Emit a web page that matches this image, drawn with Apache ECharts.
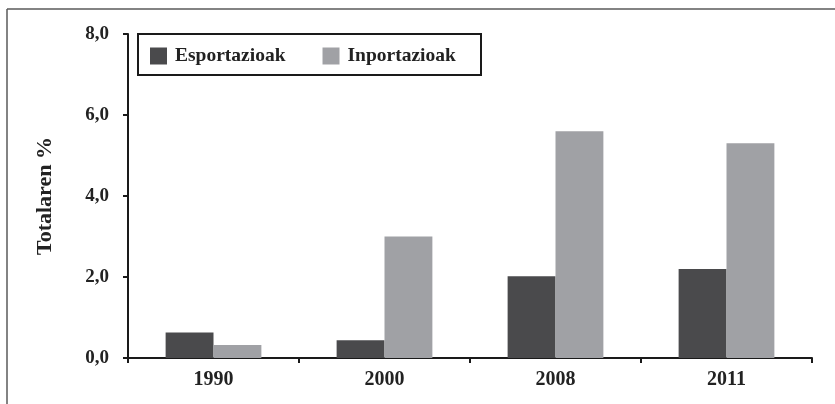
<!DOCTYPE html>
<html>
<head>
<meta charset="utf-8">
<script src="https://cdn.jsdelivr.net/npm/echarts@6/dist/echarts.min.js"></script>
<style>
html,body{margin:0;padding:0;background:#fff;}
#c{width:835px;height:404px;}
</style>
</head>
<body>
<div id="c"></div>
<script>
var categories = ['1990', '2000', '2008', '2011'];
var esportazioak = [0.63, 0.44, 2.02, 2.2];
var inportazioak = [0.32, 3.0, 5.6, 5.3];
var yTicks = [0, 2, 4, 6, 8];
var seriesNames = ['Esportazioak', 'Inportazioak'];
var yTitle = 'Totalaren %';

var font = 'Liberation Serif';
var chart = echarts.init(document.getElementById('c'));
chart.setOption({
  animation: false,
  backgroundColor: '#fff',
  grid: { left: 128, right: 23, top: 34, bottom: 46, containLabel: false },
  graphic: [
    { type: 'line', shape: { x1: 7, y1: 9, x2: 835, y2: 9 }, style: { stroke: '#5a5a5a', lineWidth: 1.5 } },
    { type: 'line', shape: { x1: 7, y1: 9, x2: 7, y2: 404 }, style: { stroke: '#5a5a5a', lineWidth: 1.5 } },
    { type: 'rect', shape: { x: 138, y: 34, width: 343, height: 41 }, style: { fill: '#fff', stroke: '#1a1a1a', lineWidth: 2 }, z: 5 }
  ],
  legend: {
    left: 150, top: 46, padding: 0,
    itemWidth: 17, itemHeight: 17, itemGap: 37,
    z: 10,
    icon: 'rect',
    data: seriesNames,
    textStyle: { fontFamily: font, fontWeight: 'bold', fontSize: 19.5, color: '#222', padding: [0, 0, 0, 3] }
  },
  xAxis: {
    type: 'category',
    data: categories,
    axisLine: { lineStyle: { color: '#1a1a1a', width: 2 } },
    axisTick: { show: true, length: 5, lineStyle: { color: '#1a1a1a', width: 2 } },
    axisLabel: { fontFamily: font, fontWeight: 'bold', fontSize: 20, color: '#222', margin: 12 }
  },
  yAxis: {
    type: 'value',
    min: 0, max: 8, interval: 2,
    name: yTitle,
    nameLocation: 'middle',
    nameGap: 72,
    nameTextStyle: { fontFamily: font, fontWeight: 'bold', fontSize: 22, color: '#222' },
    axisLine: { show: true, lineStyle: { color: '#1a1a1a', width: 2 } },
    axisTick: { show: true, length: 5, lineStyle: { color: '#1a1a1a', width: 2 } },
    splitLine: { show: false },
    axisLabel: {
      fontFamily: font, fontWeight: 'bold', fontSize: 19, color: '#222', margin: 19,
      formatter: function (v) { return v.toFixed(1).replace('.', ','); }
    }
  },
  series: [
    { name: seriesNames[0], type: 'bar', data: esportazioak, barGap: '0%', barCategoryGap: '44%', itemStyle: { color: '#4a4a4c' } },
    { name: seriesNames[1], type: 'bar', data: inportazioak, barGap: '0%', barCategoryGap: '44%', itemStyle: { color: '#a0a1a5' } }
  ]
});
</script>
</body>
</html>
